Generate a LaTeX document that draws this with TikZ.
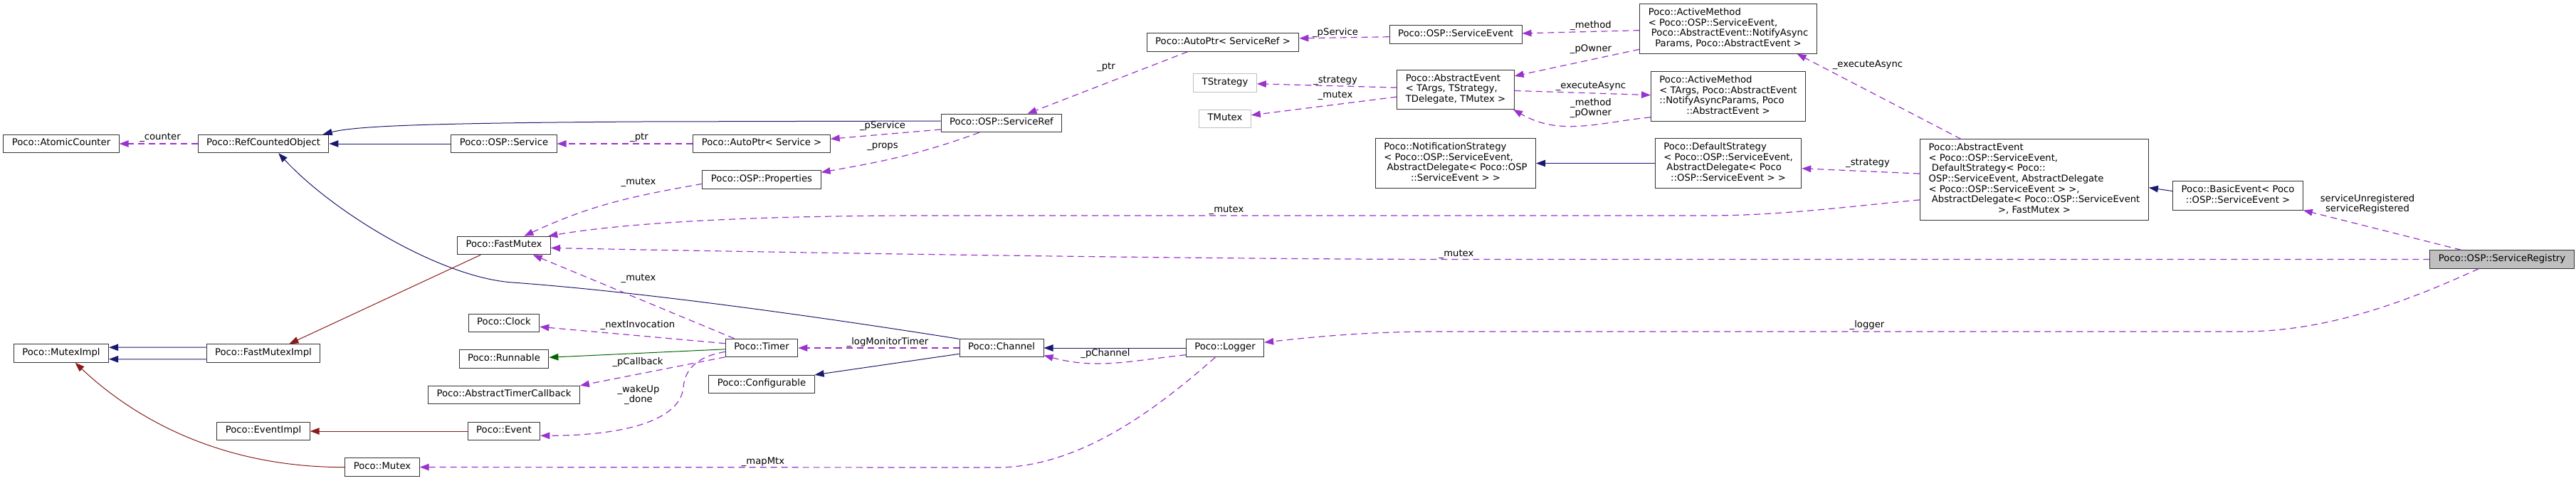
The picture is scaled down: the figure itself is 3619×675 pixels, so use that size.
\documentclass[tikz,border=0pt]{standalone}
\usepackage{fontspec}
\setmainfont{DejaVu Sans}
\usepackage{tikz}
\usepackage{xcolor}
\usetikzlibrary{arrows.meta}

\definecolor{dxblue}{HTML}{191970}
\definecolor{dxred}{HTML}{8B1A1A}
\definecolor{dxgreen}{HTML}{006400}
\definecolor{dxpurple}{HTML}{9A32CD}
\definecolor{dxgray}{HTML}{BFBFBF}

\newcommand{\dxfont}{\fontsize{13.2}{14.6}\selectfont}
\newcommand{\dxbox}[1]{\begin{tabular}{@{}l@{}}#1\end{tabular}}
\newcommand{\dxlast}[1]{\multicolumn{1}{@{}c@{}}{#1}}

\begin{document}
\begin{tikzpicture}[x=1pt, y=-1pt,
    box/.style={rectangle, draw=black!80, line width=1pt, fill=white, font=\dxfont, inner xsep=12pt, inner ysep=5.45pt},
    tparam/.style={box, draw=dxgray},
    focus/.style={box, fill=dxgray},
    lbl/.style={font=\dxfont, inner sep=0pt, align=center},
    inh/.style={draw=dxblue, line width=1pt, -{Triangle[length=13pt, width=9.5pt]}},
    priv/.style={inh, draw=dxred},
    prot/.style={inh, draw=dxgreen},
    use/.style={draw=dxpurple, line width=1.2pt, dash pattern=on 9pt off 6pt, -{Triangle[length=13pt, width=9.5pt]}}]
    \useasboundingbox (0, 0) rectangle (3619, 675);

    \node [box] (atomic) at (86, 202) {\dxbox{Poco::AtomicCounter}};
    \node [box] (refobj) at (370, 202) {\dxbox{Poco::RefCountedObject}};
    \node [box] (service) at (708, 202) {\dxbox{Poco::OSP::Service}};
    \node [box] (autosvc) at (1070, 202) {\dxbox{Poco::AutoPtr< Service >}};
    \node [box] (props) at (1070, 252.5) {\dxbox{Poco::OSP::Properties}};
    \node [box] (fastmutex) at (708, 345) {\dxbox{Poco::FastMutex}};
    \node [box] (svcref) at (1407, 173) {\dxbox{Poco::OSP::ServiceRef}};
    \node [box] (autoref) at (1718, 59.5) {\dxbox{Poco::AutoPtr< ServiceRef >}};
    \node [box] (svcevent) at (2045, 48.5) {\dxbox{Poco::OSP::ServiceEvent}};
    \node [box] (actmeth1) at (2428, 40.5) {\dxbox{Poco::ActiveMethod\\< Poco::OSP::ServiceEvent,\\\ Poco::AbstractEvent::NotifyAsync\\\dxlast{Params, Poco::AbstractEvent >}}};
    \node [tparam] (tstrategy) at (1721, 116.5) {\dxbox{TStrategy}};
    \node [tparam] (tmutex) at (1721, 167) {\dxbox{TMutex}};
    \node [box] (absevent) at (2045, 126) {\dxbox{Poco::AbstractEvent\\< TArgs, TStrategy,\\\dxlast{TDelegate, TMutex >}}};
    \node [box] (actmeth2) at (2428, 135.5) {\dxbox{Poco::ActiveMethod\\< TArgs, Poco::AbstractEvent\\::NotifyAsyncParams, Poco\\\dxlast{::AbstractEvent >}}};
    \node [box] (notifstrat) at (2045, 229.5) {\dxbox{Poco::NotificationStrategy\\< Poco::OSP::ServiceEvent,\\\ AbstractDelegate< Poco::OSP\\\dxlast{::ServiceEvent > >}}};
    \node [box] (defstrat) at (2428, 229.5) {\dxbox{Poco::DefaultStrategy\\< Poco::OSP::ServiceEvent,\\\ AbstractDelegate< Poco\\\dxlast{::OSP::ServiceEvent > >}}};
    \node [box] (bigevent) at (2858, 252.5) {\dxbox{Poco::AbstractEvent\\< Poco::OSP::ServiceEvent,\\\ DefaultStrategy< Poco::\\OSP::ServiceEvent, AbstractDelegate\\< Poco::OSP::ServiceEvent > >,\\\ AbstractDelegate< Poco::OSP::ServiceEvent\\\dxlast{>, FastMutex >}}};
    \node [box] (basicevent) at (3144, 275) {\dxbox{Poco::BasicEvent< Poco\\\dxlast{::OSP::ServiceEvent >}}};
    \node [focus] (registry) at (3515, 364.5) {\dxbox{Poco::OSP::ServiceRegistry}};
    \node [box] (clock) at (708, 454) {\dxbox{Poco::Clock}};
    \node [box] (runnable) at (708, 504.5) {\dxbox{Poco::Runnable}};
    \node [box] (timercb) at (708, 555) {\dxbox{Poco::AbstractTimerCallback}};
    \node [box] (event) at (708, 606) {\dxbox{Poco::Event}};
    \node [box] (timer) at (1070, 489) {\dxbox{Poco::Timer}};
    \node [box] (configurable) at (1070, 540) {\dxbox{Poco::Configurable}};
    \node [box] (channel) at (1407, 489) {\dxbox{Poco::Channel}};
    \node [box] (logger) at (1721, 489) {\dxbox{Poco::Logger}};
    \node [box] (muteximpl) at (86, 496.5) {\dxbox{Poco::MutexImpl}};
    \node [box] (fastmuteximpl) at (370, 496.5) {\dxbox{Poco::FastMutexImpl}};
    \node [box] (eventimpl) at (370, 606) {\dxbox{Poco::EventImpl}};
    \node [box] (mutex) at (537, 656.5) {\dxbox{Poco::Mutex}};

    \draw [inh] (service) -- (refobj);
    \draw [inh] (svcref.178) -- (900, 171) .. controls (600, 173) and (500, 177) .. (refobj.9);
    \draw [inh] (channel.168) .. controls (1150, 445) and (900, 410) .. (720, 397) .. controls (620, 390) and (470, 300) .. (refobj.328);
    \draw [inh] (fastmuteximpl.174) -- (muteximpl.7);
    \draw [inh] (fastmuteximpl.186) -- (muteximpl.353);
    \draw [inh] (logger) -- (channel);
    \draw [inh] (channel.188) -- (configurable.10);
    \draw [inh] (defstrat) -- (notifstrat);
    \draw [inh] (basicevent.176) -- (bigevent.356);
    \draw [prot] (timer.182) -- (runnable.2);
    \draw [priv] (fastmutex.202) -- (fastmuteximpl.20);
    \draw [priv] (mutex) .. controls (300, 657) and (180, 580) .. (muteximpl.326);
    \draw [priv] (event) -- (eventimpl);

    \draw [use] (refobj) -- (atomic);
    \draw [use] (autosvc) -- (service);
    \draw [use] (svcref.186) -- (autosvc.4);
    \draw [use] (svcref.203) to [out=200, in=10] (props.7);
    \draw [use] (props.184) to [out=190, in=25] (fastmutex.25);
    \draw [use] (autoref.195) -- (svcref.20);
    \draw [use] (svcevent.182) -- (autoref.3);
    \draw [use] (actmeth1.181) -- (svcevent.1);
    \draw [use] (actmeth1.193) -- (absevent.13);
    \draw [use] (absevent.178) -- (tstrategy);
    \draw [use] (absevent.187) -- (tmutex.8);
    \draw [use] (absevent.359) -- (actmeth2.179);
    \draw [use] (actmeth2.195) to [out=186, in=-30] (absevent.341);
    \draw [use] (bigevent.151) -- (actmeth1.340);
    \draw [use] (bigevent.177) -- (defstrat.356);
    \draw [use] (bigevent.190) .. controls (2600, 290) and (2500, 303) .. (2400, 303) -- (1300, 303) .. controls (1000, 303) and (850, 318) .. (fastmutex.12);
    \draw [use] (registry) -- (2050, 364.5) .. controls (1700, 364.5) and (1100, 355) .. (fastmutex.357);
    \draw [use] (registry.167) -- (basicevent.south east);
    \draw [use] (registry.202) .. controls (3400, 415) and (3280, 466) .. (3150, 466) -- (2018, 466) .. controls (1920, 466) and (1840, 474) .. (logger.8);
    \draw [use] (channel) -- (timer);
    \draw [use] (logger.190) to [out=186, in=-15] (channel.350);
    \draw [use] (logger.224) .. controls (1630, 570) and (1520, 657) .. (1400, 657) -- (mutex);
    \draw [use] (timer.161) -- (fastmutex.342);
    \draw [use] (timer.173) -- (clock.354);
    \draw [use] (timer.194) -- (timercb.7);
    \draw [use] (timer.186) .. controls (985, 500) and (962, 515) .. (960, 545) .. controls (955, 590) and (880, 612) .. (event.353);

    \node [lbl] (lcounter) at (225, 193) {\_counter};
    \node [lbl] (lptr) at (898, 193) {\_ptr};
    \node [lbl] (lpservice) at (1240, 177.5) {\_pService};
    \node [lbl] (lprops) at (1240, 206) {\_props};
    \node [lbl] (lpropsmutex) at (897, 256) {\_mutex};
    \node [lbl] (lrefptr) at (1554, 94) {\_ptr};
    \node [lbl] (leventpservice) at (1876, 46) {\_pService};
    \node [lbl] (lmethod) at (2235, 36) {\_method};
    \node [lbl] (lpowner) at (2235, 69) {\_pOwner};
    \node [lbl] (lstrategy) at (1876, 113) {\_strategy};
    \node [lbl] (ltmutex) at (1876, 134) {\_mutex};
    \node [lbl] (lexecute) at (2235, 121) {\_executeAsync};
    \node [lbl] (lmethodowner) at (2235, 152) {\_method\\\_pOwner};
    \node [lbl] (lbigexecute) at (2624, 91) {\_executeAsync};
    \node [lbl] (lbigstrategy) at (2624, 229) {\_strategy};
    \node [lbl] (lbigmutex) at (1723, 295) {\_mutex};
    \node [lbl] (lregmutex) at (2046, 357) {\_mutex};
    \node [lbl] (lregevents) at (3326, 287) {serviceUnregistered\\serviceRegistered};
    \node [lbl] (llogger) at (2623, 457) {\_logger};
    \node [lbl] (llogmonitor) at (1247, 481) {\_logMonitorTimer};
    \node [lbl] (lpchannel) at (1553, 497) {\_pChannel};
    \node [lbl] (lmapmtx) at (1072, 649) {\_mapMtx};
    \node [lbl] (ltimermutex) at (897, 391) {\_mutex};
    \node [lbl] (lnextinv) at (896, 457) {\_nextInvocation};
    \node [lbl] (lpcallback) at (896, 509) {\_pCallback};
    \node [lbl] (lwakeup) at (897, 555) {\_wakeUp\\\_done};
\end{tikzpicture}
\end{document}
